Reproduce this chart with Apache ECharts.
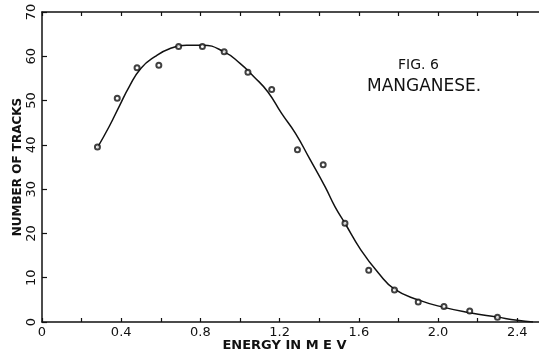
<!DOCTYPE html>
<html>
<head>
<meta charset="utf-8">
<script src="https://cdn.jsdelivr.net/npm/echarts@6/dist/echarts.min.js"></script>
<style>
  html, body { margin: 0; padding: 0; background: #fff; }
  #chart { width: 539px; height: 352px; }
</style>
</head>
<body>
<div id="chart"></div>
<script>
// measured points (energy in MeV, number of tracks)
const pointEnergy = [0.28, 0.38, 0.48, 0.59, 0.69, 0.81, 0.92, 1.04, 1.16, 1.29, 1.42, 1.53, 1.65, 1.78, 1.90, 2.03, 2.16, 2.30];
const pointTracks = [39.5, 50.5, 57.4, 58.0, 62.2, 62.2, 61.0, 56.4, 52.5, 38.9, 35.5, 22.3, 11.7, 7.2, 4.5, 3.5, 2.5, 1.1];

// hand-drawn fit curve
const curveEnergy = [0.28, 0.34, 0.39, 0.44, 0.50, 0.57, 0.65, 0.73, 0.81, 0.92, 1.00, 1.07, 1.14, 1.21, 1.28, 1.35, 1.43, 1.48, 1.53, 1.61, 1.70, 1.78, 1.90, 2.03, 2.16, 2.30, 2.40, 2.48];
const curveTracks = [39.4, 44.2, 48.7, 53.1, 57.3, 59.9, 61.8, 62.5, 62.5, 61.0, 58.4, 55.4, 52.0, 47.1, 42.6, 37.0, 30.5, 26.0, 22.3, 16.3, 11.0, 7.4, 5.0, 3.3, 2.1, 1.1, 0.4, 0.0];

const yTicks = [0, 10, 20, 30, 40, 50, 60, 70];
const xTickLabels = ['0', '0.4', '0.8', '1.2', '1.6', '2.0', '2.4'];

const ink = '#111';
const font = 'DejaVu Sans';

const chart = echarts.init(document.getElementById('chart'));

const xBase = {
  type: 'value',
  min: 0,
  max: 2.52,
  interval: 0.4,
  axisLine: { show: true, lineStyle: { color: ink, width: 1.5 } },
  axisTick: { show: true, inside: true, length: 4, lineStyle: { color: ink, width: 1.2 } },
  minorTick: { show: true, splitNumber: 2, length: 4, lineStyle: { color: ink, width: 1.2 } },
  splitLine: { show: false },
};

chart.setOption({
  backgroundColor: '#fff',
  animation: false,
  grid: { left: 42, right: -2, top: 12, bottom: 30, outerBoundsMode: 'none' },
  xAxis: [
    {
      ...xBase,
      position: 'bottom',
      name: 'ENERGY IN M E V',
      nameLocation: 'middle',
      nameGap: 17,
      nameMoveOverlap: false,
      nameTextStyle: { color: ink, fontFamily: font, fontSize: 13, fontWeight: 'bold', padding: [0, 14, 0, 0] },
      axisLabel: {
        color: ink, fontFamily: font, fontSize: 13, margin: 4, showMaxLabel: false,
        formatter: v => {
          const s = v === 0 ? '0' : v.toFixed(1);
          return xTickLabels.includes(s) ? s : '';
        },
      },
    },
    {
      ...xBase,
      position: 'top',
      axisLabel: { show: false },
    },
  ],
  yAxis: {
    type: 'value',
    min: 0,
    max: 70,
    interval: 10,
    name: 'NUMBER OF TRACKS',
    nameLocation: 'middle',
    nameGap: 18,
    nameMoveOverlap: false,
    nameTextStyle: { color: ink, fontFamily: font, fontSize: 12, fontWeight: 'bold' },
    axisLine: { show: true, lineStyle: { color: ink, width: 1.5 } },
    axisTick: { show: true, inside: true, length: 5, lineStyle: { color: ink, width: 1.2 } },
    axisLabel: {
      color: ink, fontFamily: font, fontSize: 13, rotate: 90, margin: 4,
      formatter: v => (yTicks.includes(v) ? String(v) : ''),
    },
    splitLine: { show: false },
  },
  graphic: [
    { type: 'text', left: 398, top: 58, style: { text: 'FIG. 6', fill: ink, font: '14px "DejaVu Sans"' } },
    { type: 'text', left: 367, top: 78, style: { text: 'MANGANESE.', fill: ink, font: '17px "DejaVu Sans"' } },
  ],
  series: [
    {
      type: 'line',
      data: curveEnergy.map((e, i) => [e, curveTracks[i]]),
      smooth: 0.5,
      showSymbol: false,
      lineStyle: { color: ink, width: 1.5 },
      z: 2,
    },
    {
      type: 'scatter',
      data: pointEnergy.map((e, i) => [e, pointTracks[i]]),
      symbol: 'emptyCircle',
      symbolSize: 5,
      itemStyle: { color: ink, borderColor: ink, borderWidth: 1 },
      z: 3,
    },
  ],
});
</script>
</body>
</html>
